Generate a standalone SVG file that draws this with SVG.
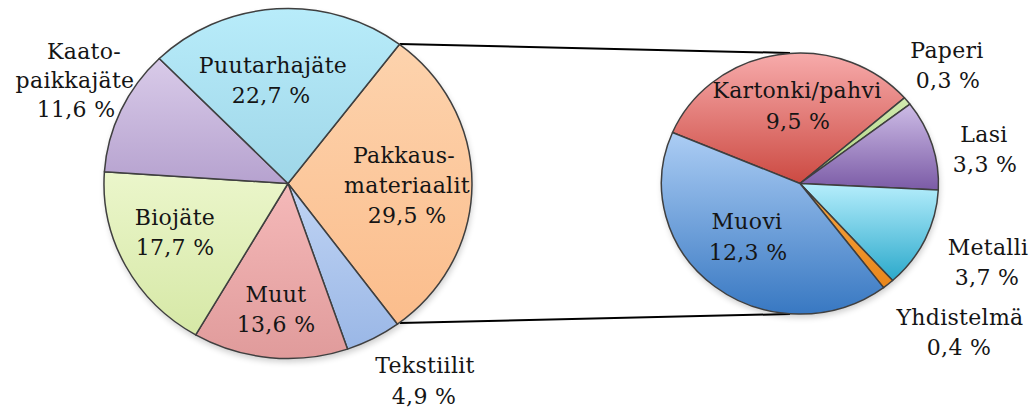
<svg xmlns="http://www.w3.org/2000/svg" width="1034" height="410" viewBox="0 0 1034 410">
<defs>
<style>
.s{stroke:#3f3f3f;stroke-width:1.5;stroke-linejoin:round}
.t{font-family:"DejaVu Serif","Liberation Serif",serif;font-size:22px;fill:#151515;text-anchor:middle;letter-spacing:0.3px}
.c{stroke:#000;stroke-width:2;fill:none}
</style>
<filter id="sh" x="-20%" y="-20%" width="140%" height="140%"><feGaussianBlur stdDeviation="3"/></filter>
<linearGradient id="gPu" x1="0" y1="0" x2="0" y2="1"><stop offset="0" stop-color="#b8ecfa"/><stop offset="1" stop-color="#9fd6e8"/></linearGradient>
<linearGradient id="gPa" x1="0" y1="0" x2="0" y2="1"><stop offset="0" stop-color="#fdd3ad"/><stop offset="1" stop-color="#fbbd8c"/></linearGradient>
<linearGradient id="gKa" x1="0" y1="0" x2="0" y2="1"><stop offset="0" stop-color="#d9cbe9"/><stop offset="1" stop-color="#b6a2cf"/></linearGradient>
<linearGradient id="gBi" x1="0" y1="0" x2="0" y2="1"><stop offset="0" stop-color="#ebf6cb"/><stop offset="1" stop-color="#d6e8a6"/></linearGradient>
<linearGradient id="gMu" x1="0" y1="0" x2="0" y2="1"><stop offset="0" stop-color="#f5b9b9"/><stop offset="1" stop-color="#e09b9b"/></linearGradient>
<linearGradient id="gTe" x1="0" y1="0" x2="0" y2="1"><stop offset="0" stop-color="#c0d4f4"/><stop offset="1" stop-color="#9ab7e6"/></linearGradient>
<linearGradient id="gKr" x1="0" y1="0" x2="0" y2="1"><stop offset="0" stop-color="#f7abab"/><stop offset="1" stop-color="#cc4a42"/></linearGradient>
<linearGradient id="gPp" x1="0" y1="0" x2="0" y2="1"><stop offset="0" stop-color="#d2eab0"/><stop offset="1" stop-color="#a8d27a"/></linearGradient>
<linearGradient id="gLa" x1="0" y1="0" x2="0" y2="1"><stop offset="0" stop-color="#cdbce6"/><stop offset="1" stop-color="#7b5ba6"/></linearGradient>
<linearGradient id="gMe" x1="0" y1="0" x2="0" y2="1"><stop offset="0" stop-color="#b6eefc"/><stop offset="1" stop-color="#2ba9cb"/></linearGradient>
<linearGradient id="gYh" x1="0" y1="0" x2="0" y2="1"><stop offset="0" stop-color="#f9a640"/><stop offset="1" stop-color="#e8861c"/></linearGradient>
<linearGradient id="gMv" x1="0" y1="0" x2="0" y2="1"><stop offset="0" stop-color="#accdf4"/><stop offset="1" stop-color="#3878c2"/></linearGradient>
</defs>
<rect width="1034" height="410" fill="#fff"/>
<ellipse cx="289" cy="187" rx="184" ry="175" fill="#000" opacity="0.2" filter="url(#sh)"/>
<ellipse cx="801" cy="187" rx="138.5" ry="130.5" fill="#000" opacity="0.2" filter="url(#sh)"/>
<g id="connectors">
<line class="c" x1="400" y1="44" x2="790" y2="53"/>
<line class="c" x1="400" y1="323" x2="790" y2="314"/>
</g>
<g id="pakkausmateriaalit">
<path class="s" fill="url(#gPa)" d="M288,183.5 L399.5,44.3 A184,175 0 0 1 397.4,324.2 Z"/>
<text class="t" x="404" y="163">Pakkaus-</text>
<text class="t" x="407" y="193">materiaalit</text>
<text class="t" x="407" y="223">29,5 %</text>
</g>
<g id="tekstiilit">
<path class="s" fill="url(#gTe)" d="M288,183.5 L397.4,324.2 A184,175 0 0 1 347.5,349.1 Z"/>
<text class="t" x="425" y="373">Tekstiilit</text>
<text class="t" x="424" y="404">4,9 %</text>
</g>
<g id="muut">
<path class="s" fill="url(#gMu)" d="M288,183.5 L347.5,349.1 A184,175 0 0 1 195.7,334.9 Z"/>
<text class="t" x="276" y="302">Muut</text>
<text class="t" x="276" y="332">13,6 %</text>
</g>
<g id="biojate">
<path class="s" fill="url(#gBi)" d="M288,183.5 L195.7,334.9 A184,175 0 0 1 104.4,171.8 Z"/>
<text class="t" x="175" y="225">Biojäte</text>
<text class="t" x="175" y="255">17,7 %</text>
</g>
<g id="kaatopaikkajate">
<path class="s" fill="url(#gKa)" d="M288,183.5 L104.4,171.8 A184,175 0 0 1 159.3,58.5 Z"/>
<text class="t" x="84" y="59">Kaato-</text>
<text class="t" x="75" y="88">paikkajäte</text>
<text class="t" x="76" y="117">11,6 %</text>
</g>
<g id="puutarhajate">
<path class="s" fill="url(#gPu)" d="M288,183.5 L159.3,58.5 A184,175 0 0 1 399.5,44.3 Z"/>
<text class="t" x="273" y="73">Puutarhajäte</text>
<text class="t" x="271" y="103">22,7 %</text>
</g>
<g id="kartonki">
<path class="s" fill="url(#gKr)" d="M800,183.5 L672.5,132.5 A138.5,130.5 0 0 1 904.4,97.8 Z"/>
<text class="t" x="797" y="98">Kartonki/pahvi</text>
<text class="t" x="798" y="129">9,5 %</text>
</g>
<g id="paperi">
<path class="s" fill="url(#gPp)" d="M800,183.5 L904.4,97.8 A138.5,130.5 0 0 1 910.0,104.2 Z"/>
<text class="t" x="947" y="58">Paperi</text>
<text class="t" x="948" y="88">0,3 %</text>
</g>
<g id="lasi">
<path class="s" fill="url(#gLa)" d="M800,183.5 L910.0,104.2 A138.5,130.5 0 0 1 938.3,190.0 Z"/>
<text class="t" x="984" y="142">Lasi</text>
<text class="t" x="985" y="172">3,3 %</text>
</g>
<g id="metalli">
<path class="s" fill="url(#gMe)" d="M800,183.5 L938.3,190.0 A138.5,130.5 0 0 1 892.6,280.5 Z"/>
<text class="t" x="988" y="255">Metalli</text>
<text class="t" x="987" y="285">3,7 %</text>
</g>
<g id="yhdistelma">
<path class="s" fill="url(#gYh)" d="M800,183.5 L892.6,280.5 A138.5,130.5 0 0 1 883.6,287.6 Z"/>
<text class="t" x="960" y="325">Yhdistelmä</text>
<text class="t" x="959" y="355">0,4 %</text>
</g>
<g id="muovi">
<path class="s" fill="url(#gMv)" d="M800,183.5 L883.6,287.6 A138.5,130.5 0 0 1 672.5,132.5 Z"/>
<text class="t" x="747" y="229">Muovi</text>
<text class="t" x="748" y="260">12,3 %</text>
</g>
</svg>
